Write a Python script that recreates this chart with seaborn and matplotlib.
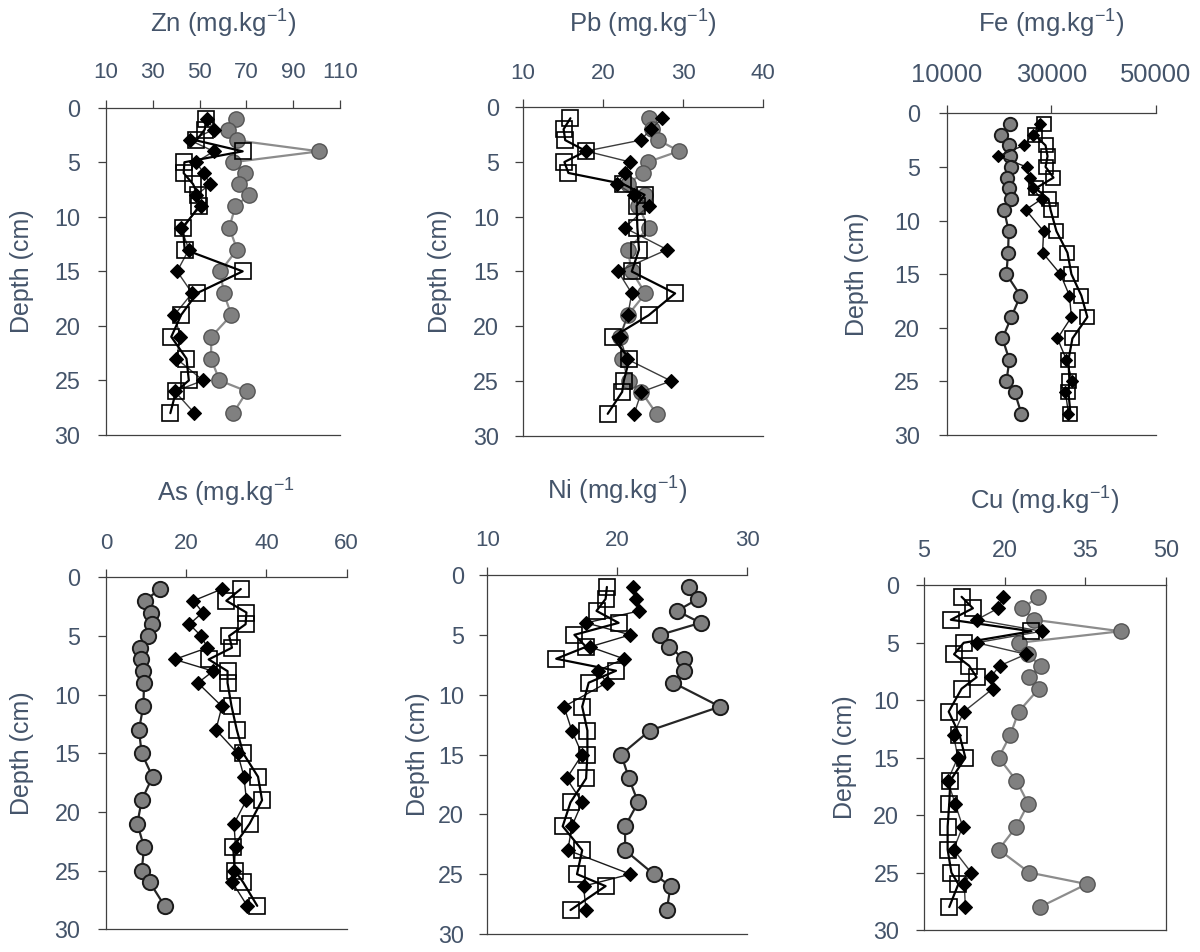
import matplotlib
matplotlib.use("Agg")
import matplotlib.pyplot as plt
import numpy as np
import pandas as pd
import seaborn as sns

# Sampling depths (cm) shared by every core
depth = [1, 2, 3, 4, 5, 6, 7, 8, 9, 11, 13, 15, 17, 19, 21, 23, 25, 26, 28]

# Concentrations per element: core_a (grey circles), core_b (black diamonds), core_c (open squares)
zn_a = [65.6, 62.2, 66.0, 101.1, 64.2, 69.2, 67.0, 71.3, 65.3, 62.7, 66.0, 58.9, 60.3, 63.6, 55.0, 54.9, 58.5, 70.3, 64.3]
zn_b = [53.2, 56.0, 46.1, 56.0, 48.5, 51.8, 54.6, 48.6, 50.8, 42.1, 45.4, 40.4, 46.8, 39.2, 41.8, 40.1, 51.5, 39.4, 47.8]
zn_c = [52.8, 52.2, 48.6, 68.4, 43.5, 43.2, 47.2, 49.2, 49.9, 42.9, 43.6, 68.4, 48.9, 42.1, 37.9, 44.4, 45.4, 39.9, 37.5]

pb_a = [25.7, 26.1, 26.9, 29.5, 25.6, 25.0, 23.1, 25.2, 24.4, 25.7, 23.1, 23.6, 25.3, 23.1, 22.1, 22.4, 23.2, 24.8, 26.7]
pb_b = [27.4, 26.0, 24.7, 17.9, 23.4, 22.8, 21.7, 23.9, 25.7, 22.7, 28.0, 21.9, 23.6, 23.1, 22.1, 23.0, 28.5, 24.8, 23.9]
pb_c = [15.95, 15.1, 15.3, 17.9, 15.2, 15.7, 22.5, 25.2, 24.2, 24.3, 24.5, 23.6, 29.0, 25.7, 21.2, 23.3, 22.6, 22.4, 20.6]

fe_a = [22190, 20480, 21870, 22190, 22380, 21620, 21870, 22380, 20980, 21870, 21740, 21430, 24100, 22380, 20670, 22000, 21430, 23010, 24290]
fe_b = [27770, 26440, 24730, 19800, 25300, 25870, 26440, 28150, 25110, 28540, 28350, 31770, 33490, 33870, 31200, 32920, 34060, 32730, 33300]
fe_c = [28540, 26820, 28920, 29300, 28920, 30440, 27010, 29490, 29870, 31010, 33110, 33870, 35770, 36920, 34060, 33300, 33490, 33300, 33680]

as_a = [13.4, 9.7, 11.2, 11.4, 10.5, 8.5, 8.6, 9.1, 9.5, 9.3, 8.2, 8.9, 11.6, 8.9, 7.8, 9.5, 8.9, 10.9, 14.6]
as_b = [28.9, 21.8, 24.1, 20.8, 23.7, 25.3, 17.1, 26.7, 22.9, 28.9, 27.4, 32.8, 34.4, 35.0, 31.9, 32.3, 31.9, 31.5, 35.2]
as_c = [33.6, 30.0, 35.0, 34.8, 30.7, 31.4, 25.6, 30.3, 30.3, 31.3, 32.6, 34.2, 37.9, 38.9, 35.8, 31.7, 32.1, 34.2, 37.7]

ni_a = [25.5, 26.2, 24.6, 26.4, 23.3, 24.0, 25.1, 25.1, 24.3, 27.9, 22.5, 20.3, 20.9, 21.6, 20.6, 20.6, 22.8, 24.1, 23.8]
ni_b = [21.2, 21.4, 21.7, 17.6, 21.0, 17.9, 20.5, 18.5, 19.2, 15.9, 16.5, 17.3, 16.1, 17.3, 16.5, 16.2, 21.0, 17.4, 17.6]
ni_c = [19.2, 19.1, 18.4, 20.1, 16.7, 17.6, 15.3, 19.9, 17.8, 17.3, 17.7, 17.7, 17.6, 16.4, 15.8, 17.3, 16.9, 19.1, 16.4]

cu_a = [26.3, 23.3, 25.5, 41.6, 22.7, 24.3, 26.7, 24.6, 26.4, 22.6, 21.1, 18.9, 22.2, 24.4, 22.2, 18.9, 24.6, 35.3, 26.6]
cu_b = [19.8, 18.8, 14.8, 26.9, 14.8, 24.0, 19.1, 17.4, 17.8, 12.4, 10.5, 11.3, 9.4, 10.8, 12.2, 10.5, 13.8, 12.5, 12.7]
cu_c = [12.0, 14.1, 10.0, 25.0, 12.4, 10.6, 13.4, 14.8, 12.0, 9.6, 11.6, 12.7, 9.9, 9.7, 9.4, 9.4, 10.1, 11.4, 9.7]

titles = ["Zn (mg.kg$^{-1}$)", "Pb (mg.kg$^{-1}$)", "Fe (mg.kg$^{-1}$)",
          "As (mg.kg$^{-1}$", "Ni (mg.kg$^{-1}$)", "Cu (mg.kg$^{-1}$)"]
xticks = [[10, 30, 50, 70, 90, 110], [10, 20, 30, 40], [10000, 30000, 50000],
          [0, 20, 40, 60], [10, 20, 30], [5, 20, 35, 50]]
yticks = [0, 5, 10, 15, 20, 25, 30]

sns.set_theme(style="white")
plt.rcParams["font.family"] = ["Liberation Sans", "DejaVu Sans"]
plt.rcParams["mathtext.fontset"] = "custom"
plt.rcParams["mathtext.rm"] = "Liberation Sans"
plt.rcParams["mathtext.it"] = "Liberation Sans:italic"
plt.rcParams["mathtext.bf"] = "Liberation Sans:bold"
plt.rcParams["mathtext.default"] = "regular"

TXT = "#44546A"
SPINE = "#404040"
W, H, DPI = 1200, 952, 100

fig = plt.figure(figsize=(W / DPI, H / DPI), dpi=DPI)
fig.patch.set_facecolor("white")

# Panel layout in pixels: left, right, top, bottom
layout = [
    dict(box=(106, 340, 107.7, 435.0), xfs=16.0, xpad=12.0, ypad=12.5, tpad=75.4, ylx=22, right=False, dark=False, small=False),
    dict(box=(522.7, 763.3, 107.3, 435.7), xfs=16.0, xpad=11.0, ypad=11.3, tpad=75.0, ylx=440, right=False, dark=False, small=False),
    dict(box=(946.7, 1155.7, 113.3, 435.0), xfs=18.4, xpad=13.1, ypad=13.5, tpad=81.0, ylx=857, right=False, dark=True, small=True),
    dict(box=(106, 346.7, 577.3, 929.3), xfs=16.0, xpad=11.0, ypad=12.5, tpad=75.6, ylx=22, right=False, dark=True, small=False),
    dict(box=(487.3, 747.3, 575.0, 934.0), xfs=16.0, xpad=11.7, ypad=11.0, tpad=75.7, ylx=418, right=False, dark=True, small=False),
    dict(box=(924, 1165.7, 585.3, 930.0), xfs=16.8, xpad=11.3, ypad=12.0, tpad=75.3, ylx=845, right=True, dark=False, small=False),
]

series = [(zn_a, zn_b, zn_c), (pb_a, pb_b, pb_c), (fe_a, fe_b, fe_c),
          (as_a, as_b, as_c), (ni_a, ni_b, ni_c), (cu_a, cu_b, cu_c)]


def draw_profile(ax, values, **kws):
    df = pd.DataFrame({"conc": values, "depth": depth})
    sns.lineplot(data=df, x="conc", y="depth", sort=False, estimator=None,
                 orient="y", ax=ax, clip_on=False, **kws)


for i, (cfg, (a, b, c)) in enumerate(zip(layout, series)):
    l, r, t, bt = cfg["box"]
    ax = fig.add_axes([l / W, 1 - bt / H, (r - l) / W, (bt - t) / H])
    ax.set_facecolor("white")

    circ_ms = 9.6 if cfg["small"] else 11.0
    sq_ms = 9.5 if cfg["small"] else 11.0
    dia_ms = 6.0 if cfg["small"] else 7.0
    if cfg["dark"]:
        c_line, c_edge, c_mew, d_line = "#262626", "#1a1a1a", 1.4, "#1a1a1a"
    else:
        c_line, c_edge, c_mew, d_line = "#8c8c8c", "#555555", 1.0, "#3c3c3c"

    draw_profile(ax, a, color=c_line, linewidth=1.6, marker="o", markersize=circ_ms,
                 markerfacecolor="#808080", markeredgecolor=c_edge, markeredgewidth=c_mew, zorder=3)
    draw_profile(ax, b, color=d_line, linewidth=1.0, marker="D", markersize=dia_ms,
                 markerfacecolor="black", markeredgecolor="black", markeredgewidth=0.8, zorder=4)
    draw_profile(ax, c, color="black", linewidth=1.6, marker="s", markersize=sq_ms,
                 markerfacecolor="none", markeredgecolor="black", markeredgewidth=1.2, zorder=5)

    xt = xticks[i]
    ax.set_xlim(xt[0], xt[-1])
    ax.set_ylim(30, 0)
    ax.set_xticks(xt)
    ax.set_yticks(yticks)
    ax.xaxis.tick_top()
    ax.set_xlabel("")
    ax.set_ylabel("Depth (cm)", fontsize=18, color=TXT)
    ax.yaxis.label.set_va("center")
    ax.yaxis.set_label_coords((cfg["ylx"] - l) / (r - l), 0.5)

    ax.tick_params(axis="x", which="both", top=True, bottom=False, direction="out",
                   length=5.8, width=0.9, color=SPINE, labelsize=cfg["xfs"],
                   labelcolor=TXT, pad=cfg["xpad"])
    ax.tick_params(axis="y", which="both", left=True, direction="out", length=5.8,
                   width=0.9, color=SPINE, labelsize=16.8, labelcolor=TXT, pad=cfg["ypad"])

    for side in ("top", "left", "bottom"):
        ax.spines[side].set_visible(True)
        ax.spines[side].set_color(SPINE)
        ax.spines[side].set_linewidth(0.9)
    ax.spines["right"].set_visible(cfg["right"])
    ax.spines["right"].set_color(SPINE)
    ax.spines["right"].set_linewidth(0.9)
    ax.grid(False)

    ax.set_title(titles[i], fontsize=18.5, color=TXT, pad=0,
                 y=1 + cfg["tpad"] / (bt - t), loc="center")

fig.savefig("out.png", dpi=DPI, facecolor="white")
